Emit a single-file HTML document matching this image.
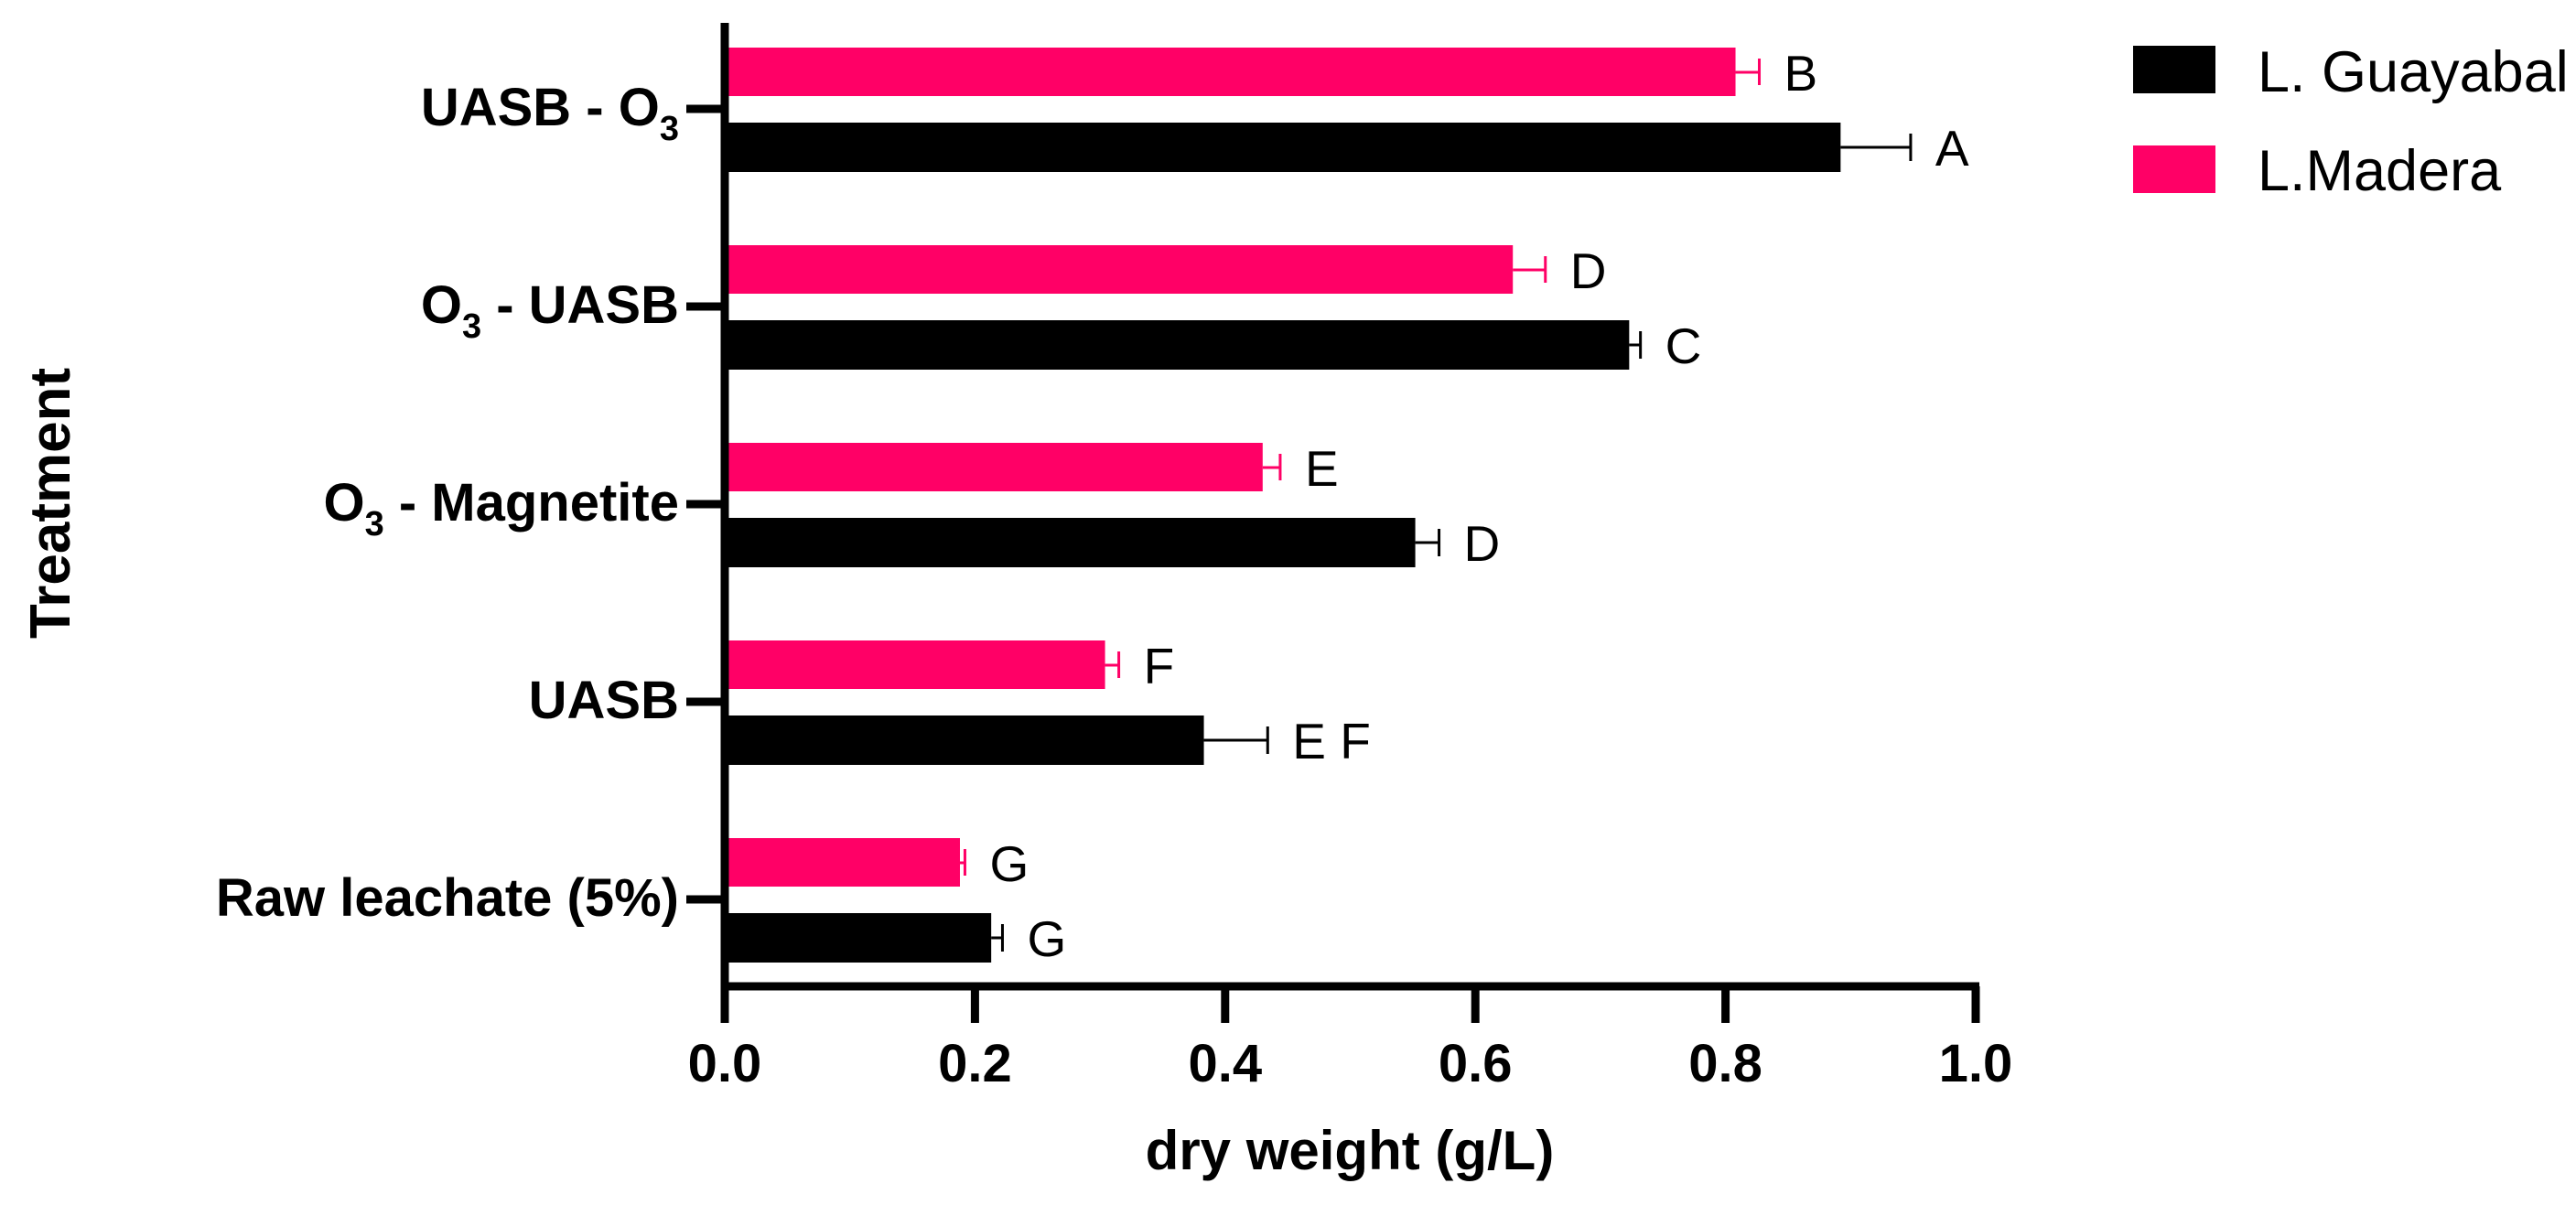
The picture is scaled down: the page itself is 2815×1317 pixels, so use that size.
<!DOCTYPE html>
<html><head><meta charset="utf-8"><style>
html,body{margin:0;padding:0;background:#fff}
svg{display:block}
text{font-family:"Liberation Sans",Arial,sans-serif}
</style></head><body>
<svg id="chart" width="2815" height="1317" viewBox="0 0 2815 1317" xmlns="http://www.w3.org/2000/svg">
<g id="plot"></g>
</svg>
<script>
const categories = ["UASB - O3", "O3 - UASB", "O3 - Magnetite", "UASB", "Raw leachate (5%)"];
const madera = [0.808, 0.630, 0.430, 0.304, 0.188];
const maderaErr = [0.019, 0.026, 0.014, 0.011, 0.004];
const maderaLetters = ["B", "D", "E", "F", "G"];
const guayabal = [0.892, 0.723, 0.552, 0.383, 0.213];
const guayabalErr = [0.056, 0.009, 0.019, 0.051, 0.009];
const guayabalLetters = ["A", "C", "D", "E F", "G"];
const xTicks = [0, 0.2, 0.4, 0.6, 0.8, 1.0];
const xTickLabels = ["0.0", "0.2", "0.4", "0.6", "0.8", "1.0"];

const NS = "http://www.w3.org/2000/svg";
const g = document.getElementById('plot');
const X0 = 792, X1 = 2159, YTOP = 25, YBOT = 1078;
const xs = v => X0 + v * (X1 - X0);
const yc = i => 119 + i * 216;
function mk(tag, attrs, parent) {
  const e = document.createElementNS(NS, tag);
  for (const k in attrs) e.setAttribute(k, attrs[k]);
  (parent || g).appendChild(e);
  return e;
}
const PINK = "#ff0066";

categories.forEach((c, i) => {
  const cy = yc(i);
  const pb = mk('rect', {x: X0, y: cy - 67, width: xs(madera[i]) - X0, height: 53, fill: PINK});
  
  
  const pe = xs(madera[i] + maderaErr[i]);
  const pl = mk('path', {d: `M${xs(madera[i])} ${cy-40}H${pe}M${pe} ${cy-55}V${cy-26}`, stroke: PINK, 'stroke-width': 3, fill: 'none'});
  
  
  const pt = mk('text', {x: pe + 27, y: cy - 20, 'font-size': 55});
  pt.textContent = maderaLetters[i];
  
  
  const bb = mk('rect', {x: X0, y: cy + 15, width: xs(guayabal[i]) - X0, height: 54, fill: '#000'});
  
  
  const be = xs(guayabal[i] + guayabalErr[i]);
  const bl = mk('path', {d: `M${xs(guayabal[i])} ${cy+42}H${be}M${be} ${cy+27}V${cy+57}`, stroke: '#000', 'stroke-width': 3, fill: 'none'});
  
  
  const bt = mk('text', {x: be + 27, y: cy + 62, 'font-size': 55});
  bt.textContent = guayabalLetters[i];
  
  
  const tk = mk('line', {x1: 750, x2: X0, y1: cy, y2: cy, stroke: '#000', 'stroke-width': 9});
  
  
  const lt = mk('text', {x: 742, y: cy + 18, 'font-size': 58, 'font-weight': 'bold', 'text-anchor': 'end'});
  
  
  const parts = c.split('O3');
  parts.forEach((p, k) => {
    if (p) { const s = mk('tspan', {}, lt); s.textContent = p; }
    if (k < parts.length - 1) {
      const o = mk('tspan', {}, lt); o.textContent = 'O';
      const sub = mk('tspan', {'font-size': 38, dy: 16}, lt); sub.textContent = '3';
      const back = mk('tspan', {dy: -16}, lt); back.textContent = '\u200B';
    }
  });
});

const ya = mk('line', {x1: X0, x2: X0, y1: YTOP, y2: YBOT + 4, stroke: '#000', 'stroke-width': 9});


const xa = mk('line', {x1: X0 - 4, x2: X1 + 4, y1: YBOT, y2: YBOT, stroke: '#000', 'stroke-width': 9});


xTicks.forEach((v, i) => {
  const t = mk('line', {x1: xs(v), x2: xs(v), y1: YBOT, y2: 1118, stroke: '#000', 'stroke-width': 9});
  
  
  const l = mk('text', {x: xs(v), y: 1182, 'font-size': 58, 'font-weight': 'bold', 'text-anchor': 'middle'});
  l.textContent = xTickLabels[i];
  
  
});
const xt = mk('text', {x: 1475, y: 1278, 'font-size': 60, 'font-weight': 'bold', 'text-anchor': 'middle'});
xt.textContent = 'dry weight (g/L)';


const yt = mk('text', {x: 0, y: 0, 'font-size': 62, 'font-weight': 'bold', 'text-anchor': 'middle', transform: 'translate(76 550) rotate(-90)'});
yt.textContent = 'Treatment';



const lg = mk('g', {});


const s1 = mk('rect', {x: 2331, y: 50, width: 90, height: 52, fill: '#000'}, lg);


const t1 = mk('text', {x: 2467, y: 100, 'font-size': 63}, lg);
t1.textContent = 'L. Guayabal';


const s2 = mk('rect', {x: 2331, y: 159, width: 90, height: 52, fill: PINK}, lg);


const t2 = mk('text', {x: 2467, y: 208, 'font-size': 63}, lg);
t2.textContent = 'L.Madera';


</script>
</body></html>
